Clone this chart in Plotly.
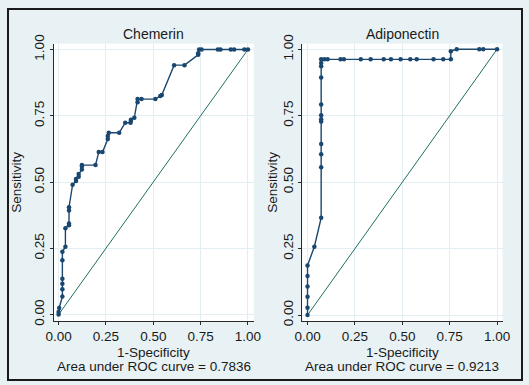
import plotly.graph_objects as go

# ---- data ----
chem_fpr = [0.000, 0.000, 0.003, 0.020, 0.020, 0.020, 0.020, 0.020, 0.020, 0.036, 0.036,
            0.055, 0.055, 0.055, 0.055, 0.074, 0.092, 0.092, 0.106, 0.106, 0.123, 0.123,
            0.123, 0.195, 0.212, 0.232, 0.260, 0.260, 0.265, 0.320, 0.352, 0.380, 0.382,
            0.382, 0.400, 0.417, 0.417, 0.438, 0.511, 0.537, 0.545, 0.610, 0.665, 0.737,
            0.737, 0.742, 0.755, 0.841, 0.855, 0.909, 0.927, 0.981, 1.000]
chem_tpr = [0.000, 0.010, 0.025, 0.068, 0.096, 0.116, 0.135, 0.205, 0.237, 0.256, 0.326,
            0.337, 0.344, 0.393, 0.405, 0.490, 0.504, 0.512, 0.520, 0.530, 0.547, 0.559,
            0.564, 0.564, 0.613, 0.613, 0.662, 0.674, 0.686, 0.686, 0.724, 0.724, 0.731,
            0.735, 0.743, 0.801, 0.813, 0.813, 0.813, 0.825, 0.828, 0.941, 0.941, 0.980,
            0.986, 1.000, 1.000, 1.000, 1.000, 1.000, 1.000, 1.000, 1.000]

adipo_fpr = [0.000, 0.000, 0.000, 0.000, 0.000, 0.000, 0.036, 0.072, 0.072, 0.072, 0.072,
             0.072, 0.072, 0.072, 0.072, 0.072, 0.072, 0.072, 0.072, 0.089, 0.106, 0.174,
             0.192, 0.281, 0.333, 0.402, 0.440, 0.491, 0.542, 0.576, 0.665, 0.716, 0.756,
             0.756, 0.787, 0.906, 0.927, 1.000]
adipo_tpr = [0.000, 0.028, 0.069, 0.108, 0.147, 0.187, 0.257, 0.366, 0.556, 0.605, 0.644,
             0.728, 0.737, 0.752, 0.792, 0.894, 0.936, 0.948, 0.962, 0.962, 0.962, 0.962,
             0.962, 0.962, 0.962, 0.962, 0.962, 0.962, 0.962, 0.962, 0.962, 0.962, 0.962,
             0.993, 1.000, 1.000, 1.000, 1.000]

ref_line = [0, 1]
tick_vals = [0, 0.25, 0.5, 0.75, 1.0]
tick_text = ["0.00", "0.25", "0.50", "0.75", "1.00"]
titles = ["Chemerin", "Adiponectin"]
auc_text = ["Area under ROC curve = 0.7836", "Area under ROC curve = 0.9213"]

# ---- style ----
W, H = 529, 385
BG = "#e8f2f4"
NAVY = "#1a476f"
TEAL = "#1f6f63"
GRID = "#e3eef2"
TXT = "#1a1a1a"
FONT = "Liberation Sans, Arial, sans-serif"
FS = 13.5

fig = go.Figure()

panels = [
    dict(fpr=chem_fpr, tpr=chem_tpr, xd=[47 / W, 253 / W], xr=[-0.026, 1.031],
         yr=[-0.025, 1.022], ylab_x=8.5),
    dict(fpr=adipo_fpr, tpr=adipo_tpr, xd=[303 / W, 509 / W], xr=[-0.027, 1.029],
         yr=[-0.023, 1.021], ylab_x=272),
]
yd = [1 - 324 / H, 1 - 36 / H]

for i, p in enumerate(panels):
    sfx = "" if i == 0 else str(i + 1)
    xa, ya = "x" + sfx, "y" + sfx
    fig.add_trace(go.Scatter(x=ref_line, y=ref_line, mode="lines",
                             line=dict(color=TEAL, width=1), xaxis=xa, yaxis=ya,
                             showlegend=False, hoverinfo="skip"))
    fig.add_trace(go.Scatter(x=p["fpr"], y=p["tpr"], mode="lines+markers",
                             line=dict(color=NAVY, width=1.4),
                             marker=dict(color=NAVY, size=4.5),
                             xaxis=xa, yaxis=ya, showlegend=False))
    axcommon = dict(tickvals=tick_vals, ticktext=tick_text, showgrid=True, gridcolor=GRID,
                    gridwidth=1, zeroline=False, showline=True, linecolor="#2a2a2a",
                    linewidth=1, ticks="outside", ticklen=3, tickcolor="#2a2a2a",
                    tickfont=dict(family=FONT, size=FS, color=TXT))
    fig.update_layout(**{
        "xaxis" + sfx: dict(axcommon, domain=p["xd"], range=p["xr"], anchor=ya),
        "yaxis" + sfx: dict(axcommon, domain=yd, range=p["yr"], anchor=xa, tickangle=-90),
    })
    cx = (p["xd"][0] + p["xd"][1]) / 2
    fig.add_annotation(text=titles[i], x=cx, y=1 - 26 / H, xref="paper", yref="paper",
                       showarrow=False, font=dict(family=FONT, size=14, color=TXT),
                       xanchor="center", yanchor="middle")
    fig.add_annotation(text="1-Specificity", x=cx, y=1 - 356 / H, xref="paper", yref="paper",
                       showarrow=False, font=dict(family=FONT, size=FS, color=TXT),
                       xanchor="center", yanchor="middle")
    fig.add_annotation(text=auc_text[i], x=cx, y=1 - 370.5 / H, xref="paper", yref="paper",
                       showarrow=False, font=dict(family=FONT, size=FS, color=TXT),
                       xanchor="center", yanchor="middle")
    fig.add_annotation(text="Sensitivity", x=p["ylab_x"] / W, y=(yd[0] + yd[1]) / 2,
                       xref="paper", yref="paper", textangle=-90, showarrow=False,
                       font=dict(family=FONT, size=FS, color=TXT),
                       xanchor="center", yanchor="middle")

fig.add_shape(type="rect", xref="paper", yref="paper", x0=0, y0=0, x1=1, y1=1,
              line=dict(color="#1a1a1a", width=2), fillcolor="rgba(0,0,0,0)", layer="above")

fig.update_layout(width=W, height=H, margin=dict(l=0, r=0, t=0, b=0),
                  paper_bgcolor=BG, plot_bgcolor="white", showlegend=False)

fig.write_html("out.html", config={"displayModeBar": False},
               post_script="document.body.style.margin='0';document.body.style.padding='0';")
